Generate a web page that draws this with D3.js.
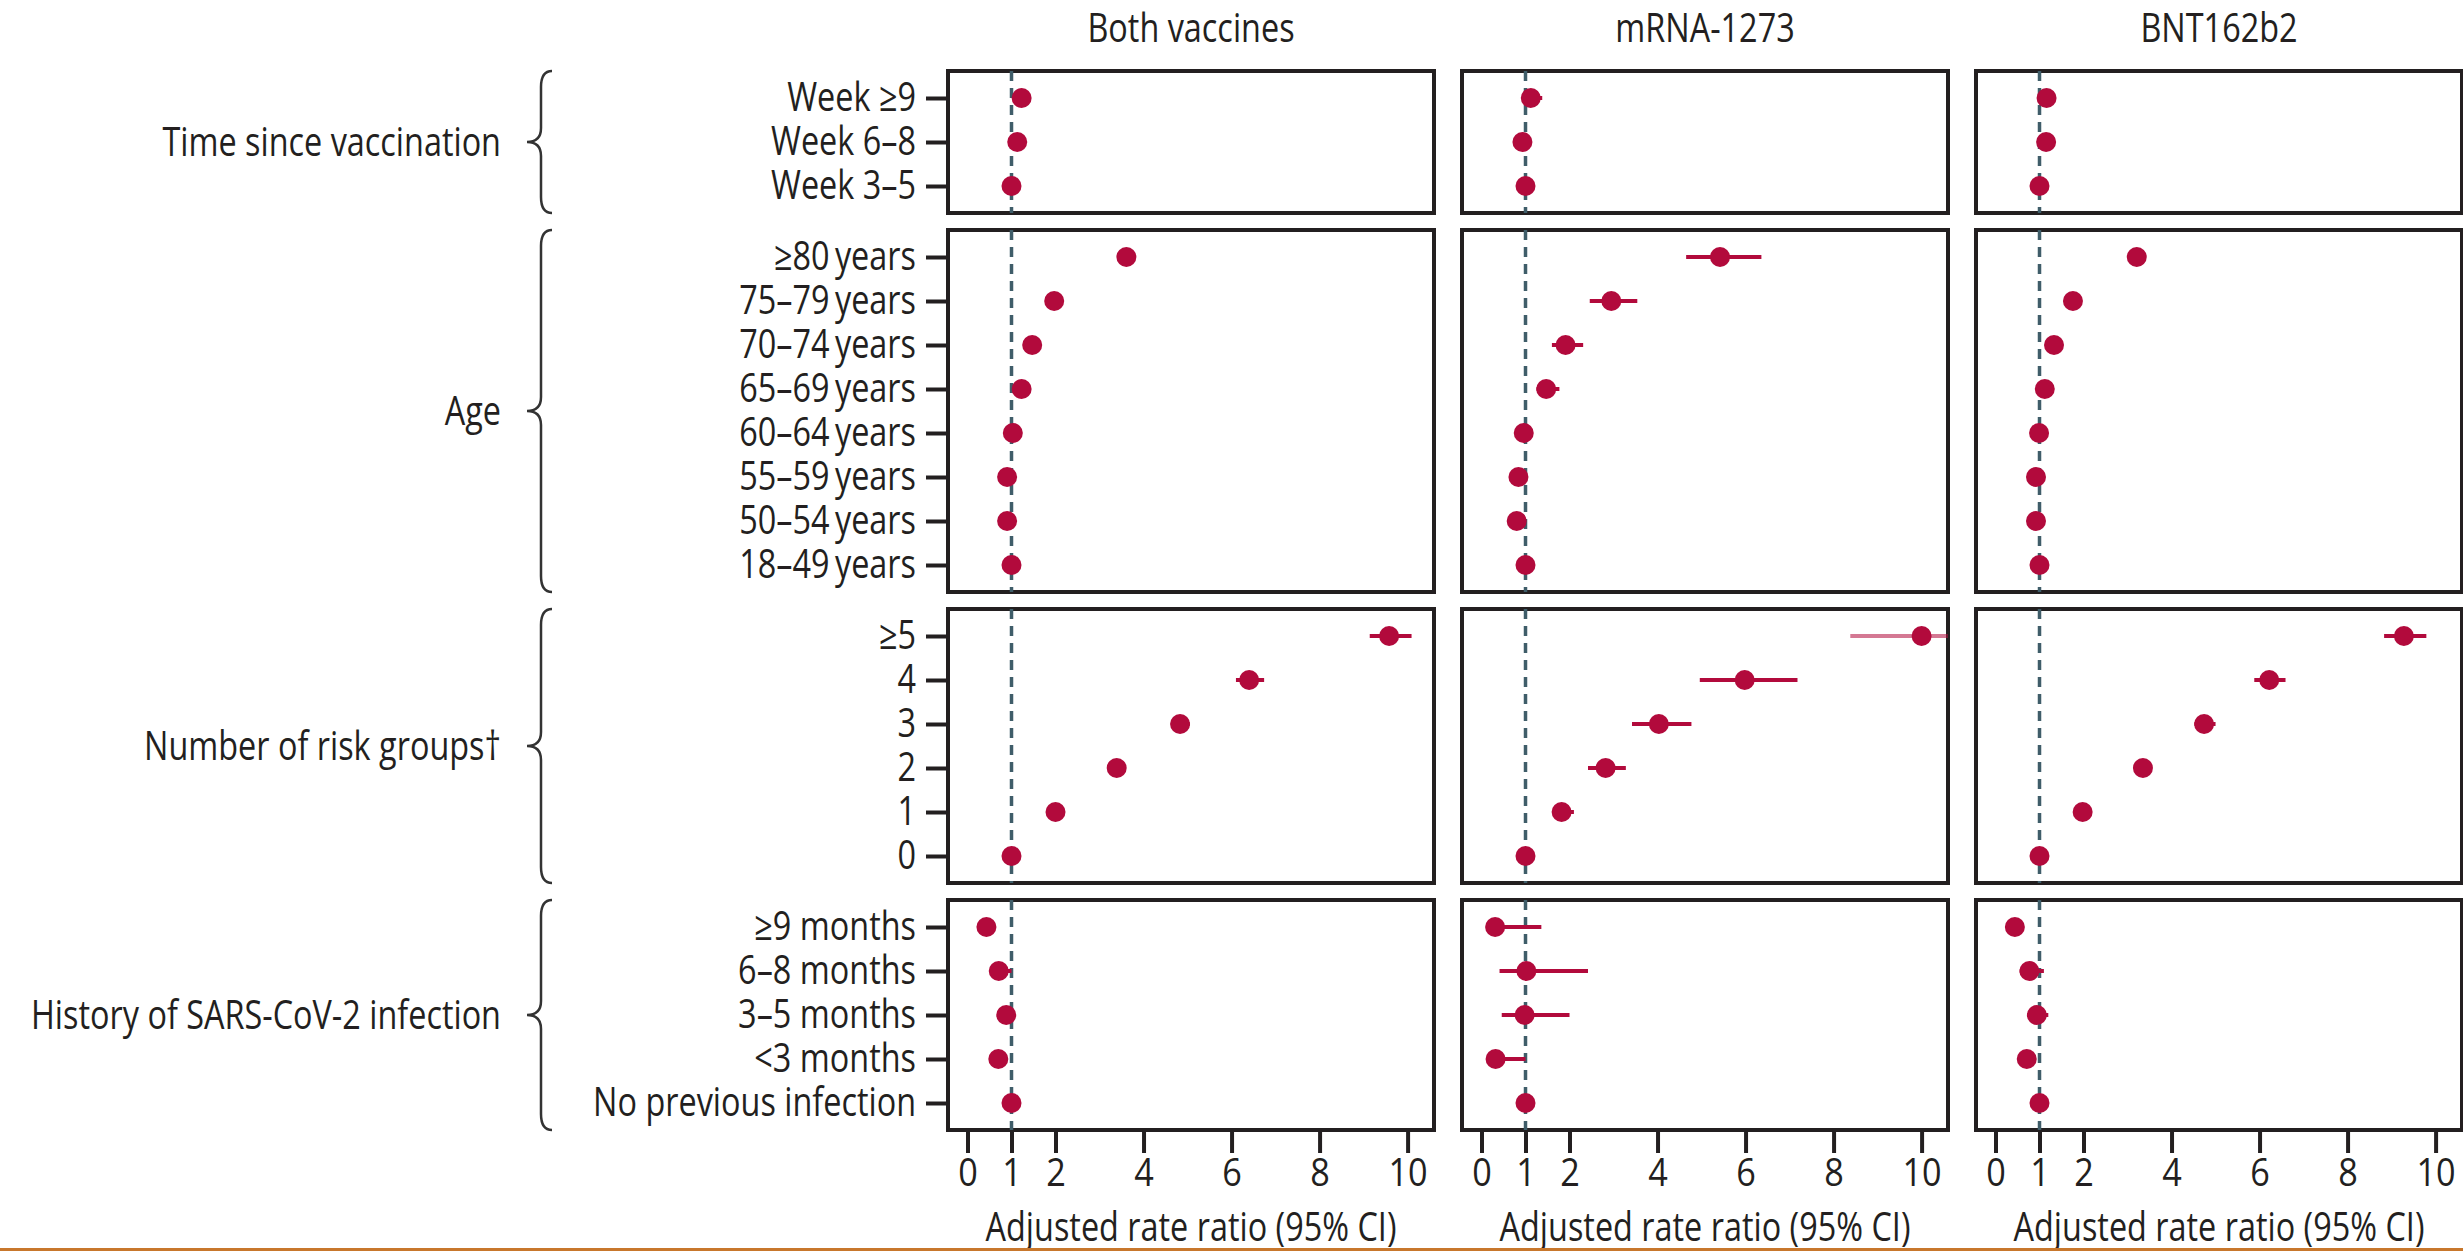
<!DOCTYPE html>
<html>
<head>
<meta charset="utf-8">
<script src="https://cdn.jsdelivr.net/npm/d3@7"></script>
<style>
  body { margin: 0; background: #fff; }
  text { font-family: "Open Sans", "Noto Sans", sans-serif; fill: #231f20; }
</style>
</head>
<body>
<div id="chart"></div>
<script>
const w = 2463;
const h = 1251;

// row labels, top to bottom inside each block
const groupNames = ["Time since vaccination", "Age", "Number of risk groups\u2020", "History of SARS-CoV-2 infection"];
const timeRows = ["Week \u22659", "Week 6\u20138", "Week 3\u20135"];
const ageRows = ["\u226580\u2009years", "75\u201379\u2009years", "70\u201374\u2009years", "65\u201369\u2009years",
  "60\u201364\u2009years", "55\u201359\u2009years", "50\u201354\u2009years", "18\u201349\u2009years"];
const riskRows = ["\u22655", "4", "3", "2", "1", "0"];
const historyRows = ["\u22659 months", "6\u20138 months", "3\u20135 months", "<3 months", "No previous infection"];

const vaccines = ["Both vaccines", "mRNA-1273", "BNT162b2"];
const xTicks = [0, 1, 2, 4, 6, 8, 10];

// estimates and 95% CI, same order as the rows above (time, age, risk, history)
const bothEst = [1.23, 1.13, 1.0, 3.61, 1.97, 1.47, 1.23, 1.03, 0.9, 0.9, 1.0, 9.58, 6.4, 4.83, 3.39, 2.0, 1.0, 0.43, 0.71, 0.88, 0.7, 1.0];
const bothLo = [1.15, 1.06, 1.0, 3.45, 1.88, 1.4, 1.17, 0.98, 0.86, 0.85, 1.0, 9.14, 6.1, 4.63, 3.27, 1.94, 1.0, 0.36, 0.55, 0.7, 0.58, 1.0];
const bothHi = [1.32, 1.2, 1.0, 3.78, 2.06, 1.54, 1.29, 1.08, 0.95, 0.95, 1.0, 10.09, 6.74, 5.05, 3.52, 2.07, 1.0, 0.51, 1.0, 1.08, 0.85, 1.0];

const mrnaEst = [1.12, 0.93, 1.0, 5.42, 2.95, 1.91, 1.47, 0.96, 0.84, 0.8, 1.0, 10.0, 5.98, 4.03, 2.82, 1.82, 1.0, 0.31, 1.02, 0.98, 0.32, 1.0];
const mrnaLo = [0.92, 0.8, 1.0, 4.65, 2.46, 1.6, 1.25, 0.85, 0.72, 0.68, 1.0, 8.38, 4.96, 3.42, 2.42, 1.63, 1.0, 0.1, 0.41, 0.46, 0.12, 1.0];
const mrnaHi = [1.38, 1.08, 1.0, 6.36, 3.54, 2.31, 1.77, 1.1, 0.98, 0.94, 1.0, 12.0, 7.18, 4.77, 3.28, 2.1, 1.0, 1.36, 2.42, 2.0, 1.0, 1.0];

const bntEst = [1.16, 1.15, 1.0, 3.21, 1.76, 1.33, 1.12, 0.99, 0.92, 0.92, 1.0, 9.28, 6.22, 4.74, 3.35, 1.98, 1.0, 0.44, 0.77, 0.94, 0.71, 1.0];
const bntLo = [1.05, 1.05, 1.0, 3.05, 1.66, 1.26, 1.06, 0.93, 0.87, 0.86, 1.0, 8.83, 5.88, 4.52, 3.22, 1.91, 1.0, 0.36, 0.55, 0.72, 0.58, 1.0];
const bntHi = [1.28, 1.25, 1.0, 3.38, 1.86, 1.41, 1.19, 1.05, 0.97, 0.98, 1.0, 9.79, 6.59, 5.0, 3.48, 2.06, 1.0, 0.53, 1.1, 1.2, 0.86, 1.0];

const blocks = [timeRows, ageRows, riskRows, historyRows];
const series = [
  [bothEst, bothLo, bothHi],
  [mrnaEst, mrnaLo, mrnaHi],
  [bntEst, bntLo, bntHi],
];

const dot = "#b20a3c";
const ink = "#231f20";
const left0 = 948;
const panelW = 486;
const panelStep = 514;
const rowGap = 44;
const edge = 27;
const blockGap = 17;
const top0 = 71;

const svg = d3.select("#chart").append("svg").attr("width", w).attr("height", h);

// vertical layout of the four blocks
let yTop = top0;
const blockInfo = blocks.map((rows, b) => {
  const hh = (rows.length - 1) * rowGap + 2 * edge;
  const y = d3.scalePoint().domain(rows).range([yTop + edge, yTop + hh - edge]);
  const start = d3.sum(blocks.slice(0, b), (r) => r.length);
  const info = { rows: rows, top: yTop, bottom: yTop + hh, y: y, start: start };
  yTop += hh + blockGap;
  return info;
});

vaccines.forEach((name, v) => {
  const left = left0 + v * panelStep;
  const x = d3.scaleLinear().domain([-0.443, 10.6]).range([left, left + panelW]);
  const [est, lo, hi] = series[v];

  svg.append("text")
    .attr("class", "narrow")
    .attr("x", left + panelW / 2)
    .attr("y", 42)
    .attr("text-anchor", "middle")
    .style("font-size", "40px")
    .text(name);

  blockInfo.forEach((bl, b) => {
    const clipId = "clip-" + v + "-" + b;
    svg.append("clipPath").attr("id", clipId)
      .append("rect")
      .attr("x", left).attr("y", bl.top)
      .attr("width", panelW).attr("height", bl.bottom - bl.top);

    svg.append("rect")
      .attr("x", left).attr("y", bl.top)
      .attr("width", panelW).attr("height", bl.bottom - bl.top)
      .attr("fill", "#fff")
      .attr("stroke", ink)
      .attr("stroke-width", 4);

    const g = svg.append("g").attr("clip-path", "url(#" + clipId + ")");

    g.append("line")
      .attr("x1", x(1)).attr("x2", x(1))
      .attr("y1", bl.top).attr("y2", bl.bottom)
      .attr("stroke", "#3f5d69")
      .attr("stroke-width", 3.5)
      .attr("stroke-dasharray", "10,7");

    const rows = bl.rows.map((r, i) => ({
      label: r,
      est: est[bl.start + i],
      lo: lo[bl.start + i],
      hi: hi[bl.start + i],
    }));

    g.selectAll(".ci")
      .data(rows)
      .enter()
      .append("line")
      .attr("class", "ci")
      .attr("x1", (d) => x(d.lo))
      .attr("x2", (d) => x(d.hi))
      .attr("y1", (d) => bl.y(d.label))
      .attr("y2", (d) => bl.y(d.label))
      .attr("stroke", dot)
      .attr("stroke-width", 4)
      .attr("opacity", (d) => (d.hi > 10.6 ? 0.55 : 1));

    g.selectAll(".dot")
      .data(rows)
      .enter()
      .append("circle")
      .attr("class", "dot")
      .attr("cx", (d) => x(d.est))
      .attr("cy", (d) => bl.y(d.label))
      .attr("r", 10)
      .attr("fill", dot);

    if (v === 0) {
      const yAxis = d3.axisLeft(bl.y).tickSize(20).tickPadding(10);
      const ga = svg.append("g")
        .attr("transform", "translate(" + (left - 2) + ",0)")
        .call(yAxis);
      ga.select(".domain").remove();
      ga.selectAll(".tick line").attr("stroke", ink).attr("stroke-width", 4);
      ga.selectAll(".tick text")
        .attr("class", "narrow")
        .style("font-size", "40px")
        .style("font-family", null)
        .attr("fill", ink);
    }
  });

  const last = blockInfo[blockInfo.length - 1];
  const xAxis = d3.axisBottom(x).tickValues(xTicks).tickSize(21).tickPadding(6).tickFormat(d3.format("d"));
  const gx = svg.append("g")
    .attr("transform", "translate(0," + (last.bottom + 2) + ")")
    .call(xAxis);
  gx.select(".domain").remove();
  gx.selectAll(".tick line").attr("stroke", ink).attr("stroke-width", 4);
  gx.selectAll(".tick text")
    .attr("class", "ticklbl")
    .style("font-size", "38px")
    .style("font-family", null)
    .attr("fill", ink);

  svg.append("text")
    .attr("class", "narrow")
    .attr("x", left + panelW / 2)
    .attr("y", 1241)
    .attr("text-anchor", "middle")
    .style("font-size", "40px")
    .text("Adjusted rate ratio (95% CI)");
});

// group braces and names
blockInfo.forEach((bl, b) => {
  const y0 = bl.top;
  const y1 = bl.bottom;
  const ym = (y0 + y1) / 2;
  const xe = 552, xb = 541, xt = 527;
  svg.append("path")
    .attr("d",
      "M" + xe + "," + y0 +
      " Q" + xb + "," + y0 + " " + xb + "," + (y0 + 16) +
      " L" + xb + "," + (ym - 14) +
      " Q" + xb + "," + ym + " " + xt + "," + ym +
      " Q" + xb + "," + ym + " " + xb + "," + (ym + 14) +
      " L" + xb + "," + (y1 - 16) +
      " Q" + xb + "," + y1 + " " + xe + "," + y1)
    .attr("fill", "none")
    .attr("stroke", "#333")
    .attr("stroke-width", 2.5);

  svg.append("text")
    .attr("class", "narrow")
    .attr("x", 501)
    .attr("y", ym)
    .attr("dy", "0.35em")
    .attr("text-anchor", "end")
    .style("font-size", "40px")
    .text(groupNames[b]);
});

svg.append("rect")
  .attr("x", 0).attr("y", 1248)
  .attr("width", w).attr("height", 3)
  .attr("fill", "#c8772c");

// the original face is a condensed one: squeeze the installed font to match
svg.selectAll("text").each(function () {
  const squeeze = this.classList.contains("ticklbl") ? 0.9 : 0.81;
  const len = this.getComputedTextLength();
  this.setAttribute("textLength", len * squeeze);
  this.setAttribute("lengthAdjust", "spacingAndGlyphs");
});
</script>
</body>
</html>
